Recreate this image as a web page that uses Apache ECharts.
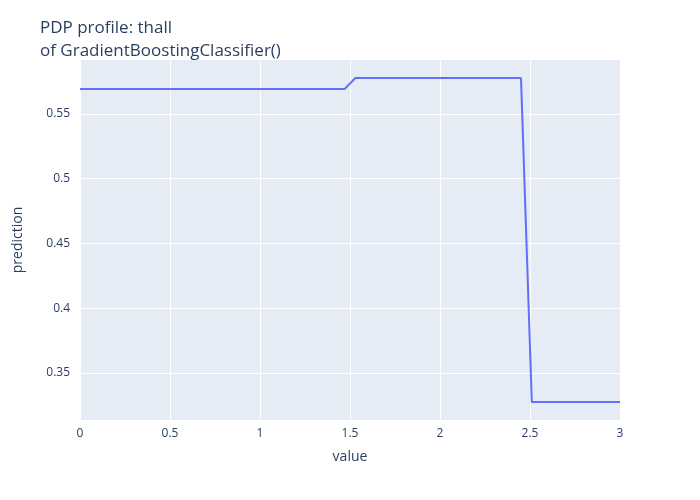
<!DOCTYPE html>
<html>
<head>
<meta charset="utf-8">
<script src="https://cdn.jsdelivr.net/npm/echarts@6/dist/echarts.min.js"></script>
</head>
<body style="margin:0">
<div id="container" style="width:700px;height:500px;"></div>
<script>
// PDP profile values
var xValues = [0, 1.47, 1.53, 2.45, 2.51, 3];
var yValues = [0.5693, 0.5693, 0.5778, 0.5778, 0.3276, 0.3276];
var yTicks = [0.35, 0.4, 0.45, 0.5, 0.55];

var pts = [];
for (var i = 0; i < xValues.length; i++) pts.push([xValues[i], yValues[i]]);

var chart = echarts.init(document.getElementById('container'));
var font = 'Open Sans, Noto Sans, sans-serif';
var fmt = function (v) { return String(parseFloat(v.toFixed(2))); };

chart.setOption({
    backgroundColor: '#fff',
    animation: false,
    title: {
        text: 'PDP profile: thall\nof GradientBoostingClassifier()',
        left: 35, top: 12,
        textStyle: { fontFamily: font, fontSize: 17, fontWeight: 'normal', color: '#2a3f5f', lineHeight: 23 }
    },
    grid: { left: 80, right: 80, top: 60, bottom: 80, show: true, backgroundColor: '#E5ECF6', borderWidth: 0 },
    xAxis: {
        type: 'value', min: 0, max: 3, interval: 0.5,
        name: 'value', nameLocation: 'middle', nameGap: 30,
        nameTextStyle: { fontFamily: font, fontSize: 14, color: '#2a3f5f' },
        axisLine: { show: false }, axisTick: { show: false },
        axisLabel: { fontFamily: font, fontSize: 12, color: '#2a3f5f', formatter: fmt },
        splitLine: { lineStyle: { color: '#fff', width: 1 } }
    },
    yAxis: {
        type: 'value', min: 0.3137, max: 0.5917,
        name: 'prediction', nameLocation: 'middle', nameGap: 55,
        nameTextStyle: { fontFamily: font, fontSize: 14, color: '#2a3f5f' },
        axisLine: { show: false },
        axisTick: { show: false, customValues: yTicks },
        axisLabel: { fontFamily: font, fontSize: 12, color: '#2a3f5f', customValues: yTicks, formatter: fmt, margin: 10 },
        splitLine: { lineStyle: { color: '#fff', width: 1 } }
    },
    series: [{
        type: 'line', data: pts, showSymbol: false,
        lineStyle: { color: '#636efa', width: 2 }
    }]
});
</script>
</body>
</html>
